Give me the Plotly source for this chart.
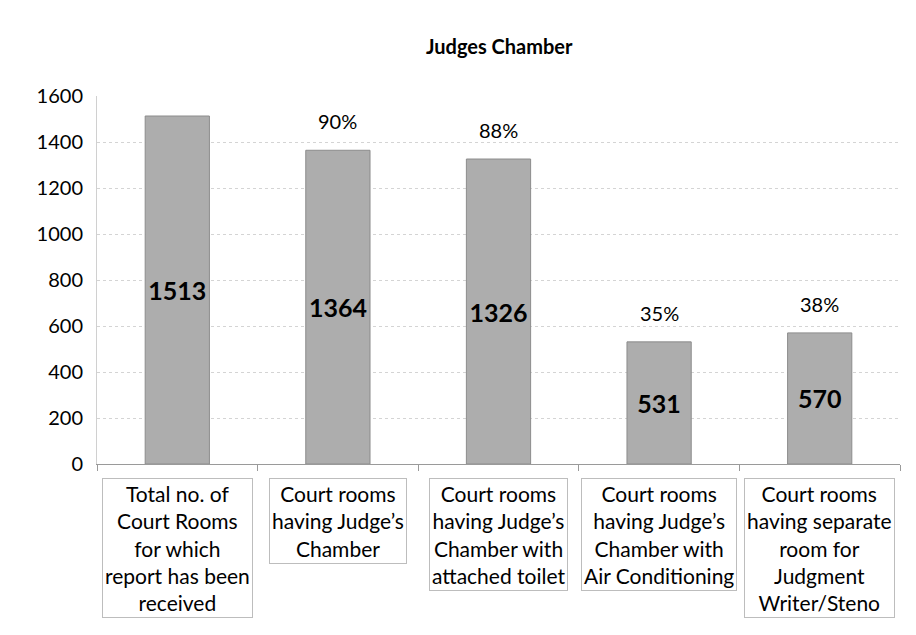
import plotly.graph_objects as go

# ── Data ────────────────────────────────────────────────────
categories = [
    "Total no. of<br>Court Rooms<br>for which<br>report has been<br>received",
    "Court rooms<br>having Judge’s<br>Chamber",
    "Court rooms<br>having Judge’s<br>Chamber with<br>attached toilet",
    "Court rooms<br>having Judge’s<br>Chamber with<br>Air Conditioning",
    "Court rooms<br>having separate<br>room for<br>Judgment<br>Writer/Steno",
]
counts = [1513, 1364, 1326, 531, 570]
shares = ["", "90%", "88%", "35%", "38%"]
y_ticks = [0, 200, 400, 600, 800, 1000, 1200, 1400, 1600]

FONT = "Lato, 'Open Sans', sans-serif"
keys = [f"c{i}" for i in range(len(categories))]

fig = go.Figure(go.Bar(
    x=keys, y=counts, width=0.4,
    marker=dict(color="#adadad", line=dict(color="#8c8c8c", width=1)),
    text=[str(v) for v in counts], textposition="inside",
    insidetextanchor="middle",
    textfont=dict(family=FONT, size=25, color="black", weight="bold"),
    cliponaxis=False,
))

annotations = []
# percentage labels above bars
for k, v, s in zip(keys, counts, shares):
    if s:
        annotations.append(dict(
            x=k, y=v, xref="x", yref="y", text=s, showarrow=False,
            yanchor="bottom", yshift=15,
            font=dict(family=FONT, size=20, color="black"),
        ))
# boxed category labels
for k, c in zip(keys, categories):
    annotations.append(dict(
        x=k, y=0, xref="x", yref="paper", text=c, showarrow=False,
        yanchor="top", yshift=-14, align="center",
        bordercolor="#bdbdbd", borderwidth=1, borderpad=2,
        font=dict(family=FONT, size=21, color="black"),
    ))

# page body adds an 8px offset, so the figure is sized to compensate
fig.update_layout(
    width=908, height=627,
    margin=dict(l=89, r=16, t=88, b=171),
    paper_bgcolor="white", plot_bgcolor="white",
    showlegend=False,
    title=dict(text="<b>Judges Chamber</b>", x=0.541, xanchor="center",
               y=0.938, yanchor="middle",
               font=dict(family=FONT, size=20, color="black")),
    annotations=annotations,
    font=dict(family=FONT, color="black"),
)
fig.update_xaxes(
    type="category", showticklabels=False, tickson="boundaries",
    ticks="outside", ticklen=6, tickcolor="#9a9a9a",
    showline=True, linecolor="#9a9a9a", showgrid=False,
)
fig.update_yaxes(
    range=[0, 1600], tickvals=y_ticks, showgrid=True,
    gridcolor="#d4d4d4", griddash="dot", zeroline=False,
    showline=True, linecolor="#d0d0d0", ticks="",
    ticklabelstandoff=9,
    tickfont=dict(family=FONT, size=20, color="black"),
)

fig.write_html("out.html")
